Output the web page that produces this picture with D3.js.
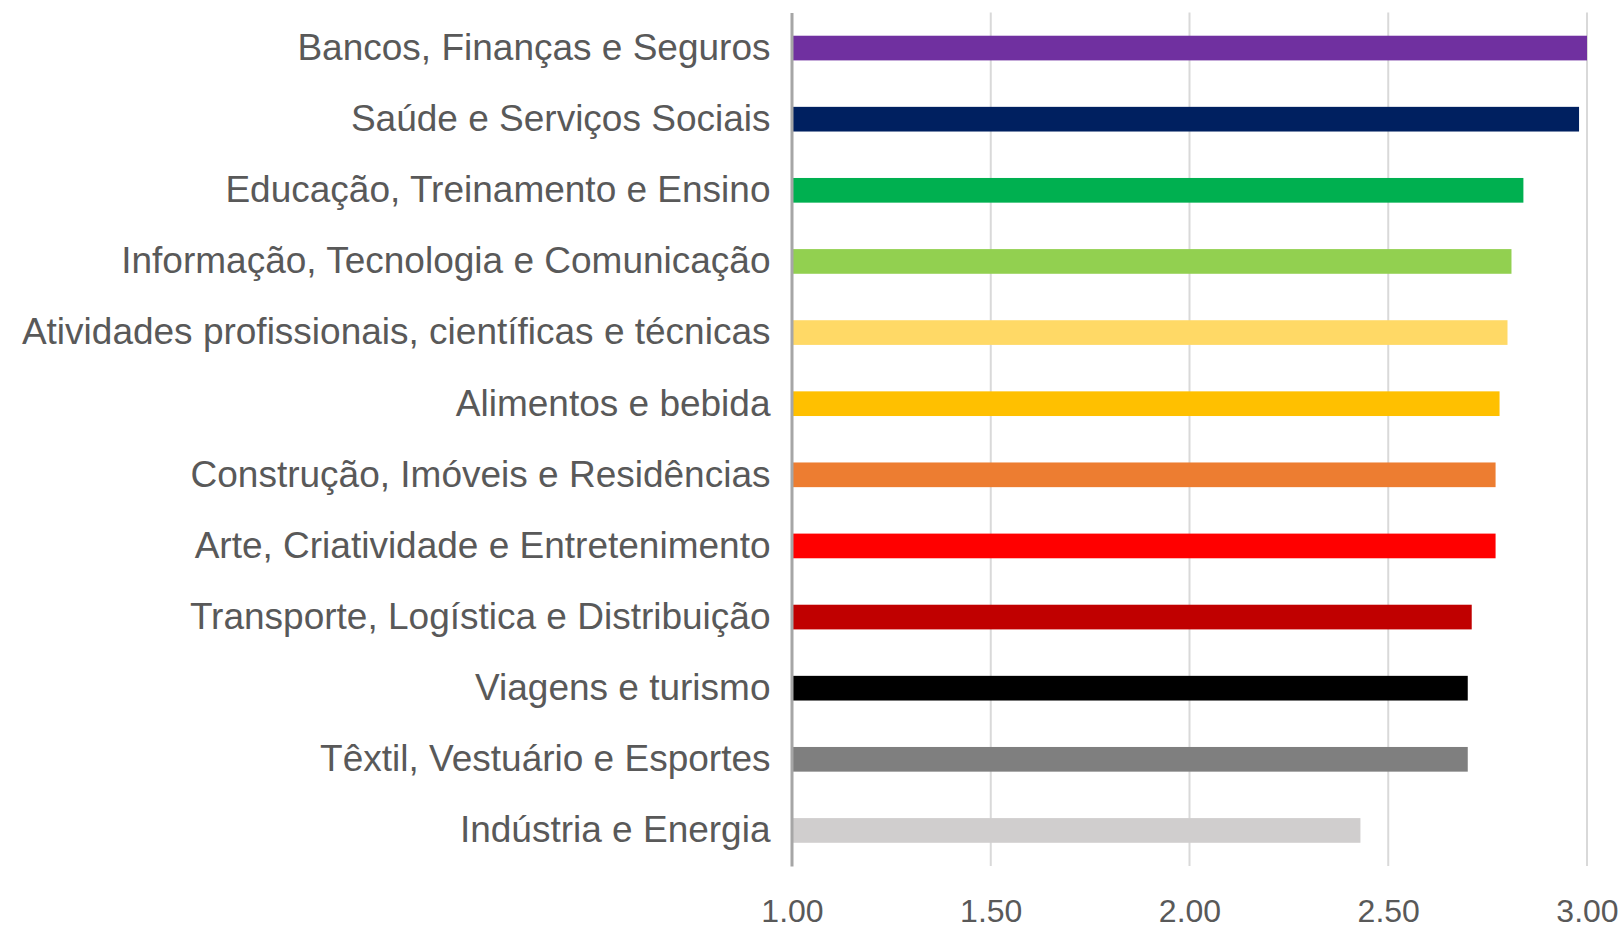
<!DOCTYPE html>
<html>
<head>
<meta charset="utf-8">
<script src="https://cdn.jsdelivr.net/npm/d3@7"></script>
<style>
    body { margin: 0; background: #fff; }
    svg { display: block; }
</style>
</head>
<body>
<div id="chart"></div>
<script>
const categories = [
    "Bancos, Finanças e Seguros",
    "Saúde e Serviços Sociais",
    "Educação, Treinamento e Ensino",
    "Informação, Tecnologia e Comunicação",
    "Atividades profissionais, científicas e técnicas",
    "Alimentos e bebida",
    "Construção, Imóveis e Residências",
    "Arte, Criatividade e Entretenimento",
    "Transporte, Logística e Distribuição",
    "Viagens e turismo",
    "Têxtil, Vestuário e Esportes",
    "Indústria e Energia"
];
const values = [3.00, 2.98, 2.84, 2.81, 2.80, 2.78, 2.77, 2.77, 2.71, 2.70, 2.70, 2.43];
const colors = ["#7030A0", "#002060", "#00B050", "#92D050", "#FFD966", "#FFC000",
    "#ED7D31", "#FF0000", "#C00000", "#000000", "#7F7F7F", "#D0CECE"];
const ticks = [1.00, 1.50, 2.00, 2.50, 3.00];

const width = 1622, height = 929;
const margin = {top: 12.5, right: 35, bottom: 63, left: 792};

const svg = d3.select("#chart").append("svg")
    .attr("width", width)
    .attr("height", height);

const x = d3.scaleLinear()
    .domain([1, 3])
    .range([margin.left, width - margin.right]);

const y = d3.scaleBand()
    .domain(categories)
    .range([margin.top, height - margin.bottom])
    .paddingInner(0.653)
    .paddingOuter(0.3265);

// gridlines
svg.append("g")
    .selectAll("line")
    .data(ticks.slice(1))
    .join("line")
    .attr("x1", d => x(d))
    .attr("x2", d => x(d))
    .attr("y1", margin.top)
    .attr("y2", height - margin.bottom)
    .attr("stroke", "#d9d9d9")
    .attr("stroke-width", 2);

// bars
svg.append("g")
    .selectAll("rect")
    .data(values)
    .join("rect")
    .attr("x", x(1))
    .attr("y", (d, i) => y(categories[i]))
    .attr("width", d => x(d) - x(1))
    .attr("height", y.bandwidth())
    .attr("fill", (d, i) => colors[i]);

// x axis (labels only)
const xAxis = svg.append("g")
    .attr("transform", "translate(0," + (height - margin.bottom) + ")")
    .call(d3.axisBottom(x).tickValues(ticks).tickFormat(d3.format(".2f")).tickSize(0).tickPadding(33));
xAxis.select(".domain").remove();
xAxis.selectAll("text")
    .attr("font-family", "'Liberation Sans', Arial, sans-serif")
    .attr("font-size", 32)
    .attr("fill", "#595959");

// y axis
const yAxis = svg.append("g")
    .attr("transform", "translate(" + (margin.left - 0.5) + ",0)")
    .call(d3.axisLeft(y).tickSize(0).tickPadding(21));
yAxis.select(".domain")
    .attr("stroke", "#a6a6a6")
    .attr("stroke-width", 3);
yAxis.selectAll("text")
    .attr("dy", "0.32em")
    .attr("font-family", "'Liberation Sans', Arial, sans-serif")
    .attr("font-size", 37)
    .attr("fill", "#595959");
</script>
</body>
</html>
